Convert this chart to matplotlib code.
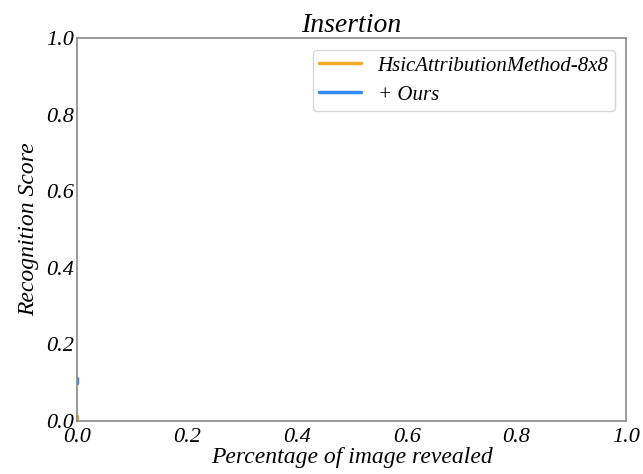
import matplotlib
matplotlib.use("Agg")
import matplotlib.pyplot as plt

plt.rcParams["font.family"] = ["Liberation Serif", "DejaVu Serif"]
plt.rcParams["font.style"] = "italic"

# Insertion curve samples (only the first step is present)
hsic_x = [0.0, 0.0]
hsic_y = [0.004, 0.012]
ours_x = [0.0, 0.0]
ours_y = [0.100, 0.112]

xticks = [0.0, 0.2, 0.4, 0.6, 0.8, 1.0]
yticks = [0.0, 0.2, 0.4, 0.6, 0.8, 1.0]

fig = plt.figure(figsize=(6.43, 4.74), dpi=100)
ax = fig.add_axes([0.12, 0.112, 0.854, 0.808])

ax.plot(hsic_x, hsic_y, color="#f2a92c", lw=2.5, label="HsicAttributionMethod-8x8",
        solid_capstyle="round")
ax.plot(ours_x, ours_y, color="#2f8ef0", lw=2.5, label="+ Ours",
        solid_capstyle="round")

ax.set_xlim(0, 1)
ax.set_ylim(0, 1)
ax.set_xticks(xticks)
ax.set_yticks(yticks)
ax.set_xticklabels([f"{t:.1f}" for t in xticks], fontsize=16, style="italic")
ax.set_yticklabels([f"{t:.1f}" for t in yticks], fontsize=16, style="italic")
ax.tick_params(axis="x", length=0, pad=5)
ax.tick_params(axis="y", length=0, pad=2)
for s in ax.spines.values():
    s.set_color("#888888")
    s.set_linewidth(1.2)

ax.set_title("Insertion", fontsize=20, style="italic", pad=1)
ax.set_xlabel("Percentage of image revealed", fontsize=17, style="italic", labelpad=0)
ax.set_ylabel("Recognition Score", fontsize=17, style="italic", labelpad=5)

ax.legend(loc="upper right", prop={"style": "italic", "size": 15},
          handlelength=2.0, frameon=True, fancybox=True,
          bbox_to_anchor=(0.998, 0.996), labelspacing=0.45, borderpad=0.3)

fig.savefig("out.png", dpi=100)
